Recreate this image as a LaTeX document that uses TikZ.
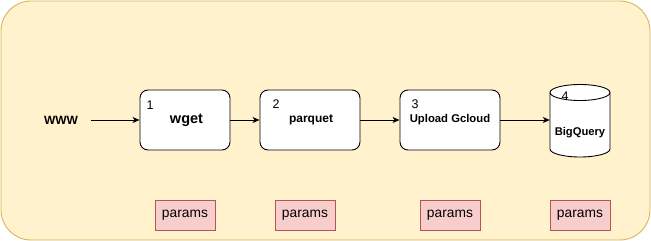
\documentclass[tikz,border=0pt]{standalone}
\usepackage{fontspec}
\setmainfont{Liberation Sans}
\usetikzlibrary{arrows.meta}
\definecolor{panelfill}{HTML}{FFF2CC}
\definecolor{paneledge}{HTML}{D6B656}
\definecolor{paramfill}{HTML}{F8CECC}
\definecolor{paramedge}{HTML}{B85450}
\begin{document}
\begin{tikzpicture}[x=1pt,y=-1pt,
  stagebox/.style={draw=black, fill=white, line width=0.9pt, rounded corners=8pt,
    minimum height=60pt, inner sep=0pt, align=center},
  parambox/.style={draw=paramedge, fill=paramfill, line width=0.9pt,
    minimum width=60pt, minimum height=30pt, inner sep=0pt,
    font=\fontsize{13.8}{16}\selectfont},
  numlabel/.style={inner sep=0pt, font=\fontsize{12.5}{15}\selectfont},
  flow/.style={draw=black, line width=0.9pt, -{Stealth[length=7pt,width=6pt,inset=2pt]}}
]
\useasboundingbox (0,0) rectangle (651,241);
% background panel
\draw[fill=panelfill, draw=paneledge, line width=0.9pt, rounded corners=30pt]
  (1,1) rectangle (650,240);

% source
\node[minimum width=60pt, inner sep=0pt, font=\fontsize{12}{14}\selectfont\bfseries]
  (www) at (61,120) {WWW};

% processing stages
\node[stagebox, minimum width=90pt, font=\fontsize{14.5}{17}\selectfont\bfseries]
  (b1) at (185,120) {\hspace*{3pt}wget};
\node[stagebox, minimum width=100pt, font=\fontsize{12}{14}\selectfont\bfseries]
  (b2) at (310,120) {\hspace*{2pt}parquet};
\node[stagebox, minimum width=100pt, font=\fontsize{11.3}{14}\selectfont\bfseries]
  (b3) at (450,120) {Upload Gcloud};

% storage cylinder
\node[minimum width=60pt, minimum height=72.5pt, inner sep=0pt] (bq) at (580,120.75) {};
\draw[fill=white, line width=0.9pt]
  (550,92.5) -- (550,149) arc (180:360:30pt and 8pt) -- (610,92.5)
  arc (0:180:30pt and 8pt) -- cycle;
\draw[line width=0.9pt] (610,92.5) arc (0:-180:30pt and 8pt);
\node[inner sep=0pt, font=\fontsize{11.2}{14}\selectfont\bfseries] (bqtext) at (580,132.5) {BigQuery};

% step numbers
\node[numlabel] (n1) at (150,105) {1};
\node[numlabel] (n2) at (276,104.5) {2};
\node[numlabel] (n3) at (415,104) {3};
\node[numlabel] (n4) at (565,96) {4};

% connectors
\draw[flow] (www) -- (b1);
\draw[flow] (b1) -- (b2);
\draw[flow] (b2) -- (b3);
\draw[flow] (b3) -- (bq.west |- b3.east);

% parameter tags
\node[parambox] (p1) at (185,215) {params};
\node[parambox] (p2) at (305,215) {params};
\node[parambox] (p3) at (450,215) {params};
\node[parambox] (p4) at (580,215) {params};
\end{tikzpicture}
\end{document}
